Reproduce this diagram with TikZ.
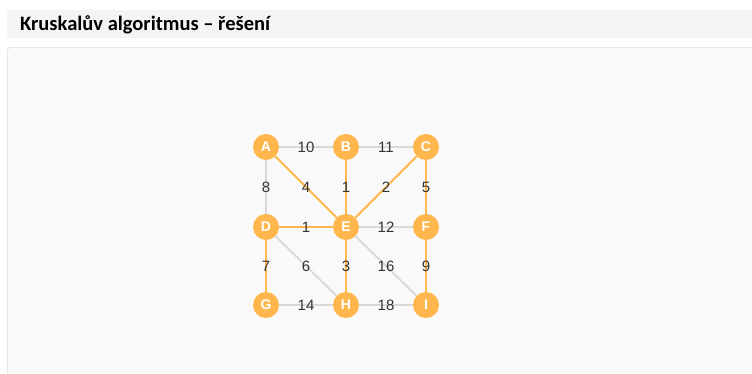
\documentclass[tikz,border=0pt]{standalone}
\usepackage{fontspec}
\setmainfont{Liberation Sans}
\newfontfamily\titlefont{Carlito}
\definecolor{nodeor}{HTML}{FFB74D}
\definecolor{edgegray}{HTML}{D9D9D9}
\definecolor{barbg}{HTML}{F4F4F4}
\definecolor{panelbg}{HTML}{F9F9F9}
\definecolor{panelbd}{HTML}{E6E6E6}
\definecolor{lbl}{HTML}{333333}
\tikzset{
  vtx/.style={circle, fill=nodeor, draw=none, minimum size=26pt, inner sep=0pt,
    text=white, font=\bfseries\fontsize{14}{14}\selectfont},
  mst/.style={draw=nodeor, line width=1.8pt},
  other/.style={draw=edgegray, line width=1.8pt},
  wt/.style={text=lbl, font=\fontsize{15}{15}\selectfont, inner sep=0pt}
}
\begin{document}
\begin{tikzpicture}[x=1pt,y=-1pt]
\useasboundingbox (0,0) rectangle (752,374);
\fill[white] (0,0) rectangle (752,374);
% header bar
\fill[barbg, rounded corners=3pt] (7,10) rectangle (760,38);
\node[anchor=base west, inner sep=0pt, font=\titlefont\bfseries\fontsize{20.5}{20.5}\selectfont] (title) at (20,30.5) {Kruskalův algoritmus – řešení};
% panel
\filldraw[fill=panelbg, draw=panelbd, line width=0.8pt, rounded corners=3pt] (7.5,47.5) rectangle (770,390);
% nodes
\node[vtx] (A) at (266,147) {A};
\node[vtx] (B) at (346,147) {B};
\node[vtx] (C) at (426,147) {C};
\node[vtx] (D) at (266,227) {D};
\node[vtx] (E) at (346,227) {E};
\node[vtx] (F) at (426,227) {F};
\node[vtx] (G) at (266,305) {G};
\node[vtx] (H) at (346,305) {H};
\node[vtx] (I) at (426,305) {I};
% edges
\path[other] (A) -- (B);
\path[other] (B) -- (C);
\path[other] (A) -- (D);
\path[other] (E) -- (F);
\path[other] (D) -- (H);
\path[other] (E) -- (I);
\path[other] (G) -- (H);
\path[other] (H) -- (I);
\path[mst] (A) -- (E);
\path[mst] (B) -- (E);
\path[mst] (C) -- (E);
\path[mst] (C) -- (F);
\path[mst] (D) -- (E);
\path[mst] (D) -- (G);
\path[mst] (E) -- (H);
\path[mst] (F) -- (I);
% weights
\node[wt] (wAB) at (306,147) {10};
\node[wt] (wBC) at (386,147) {11};
\node[wt] (wAD) at (266,187) {8};
\node[wt] (wAE) at (306,187) {4};
\node[wt] (wBE) at (346,187) {1};
\node[wt] (wCE) at (386,187) {2};
\node[wt] (wCF) at (426,187) {5};
\node[wt] (wDE) at (306,227) {1};
\node[wt] (wEF) at (386,227) {12};
\node[wt] (wDG) at (266,266) {7};
\node[wt] (wDH) at (306,266) {6};
\node[wt] (wEH) at (346,266) {3};
\node[wt] (wEI) at (386,266) {16};
\node[wt] (wFI) at (426,266) {9};
\node[wt] (wGH) at (306,305) {14};
\node[wt] (wHI) at (386,305) {18};
\end{tikzpicture}
\end{document}
